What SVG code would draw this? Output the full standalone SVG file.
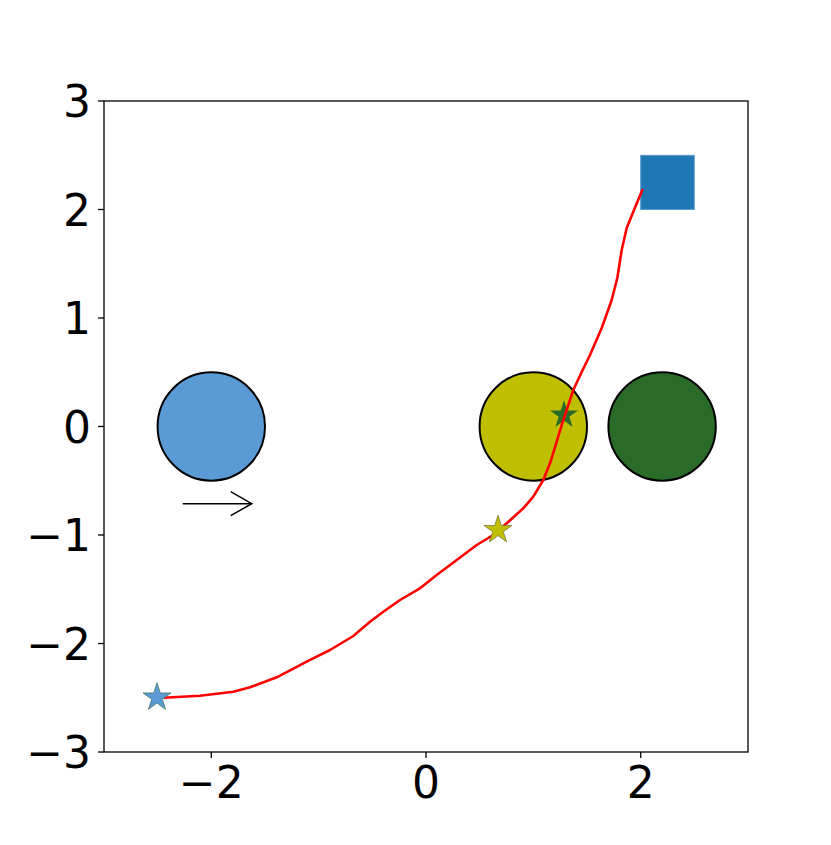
<svg xmlns="http://www.w3.org/2000/svg" width="831" height="845" viewBox="0 0 831 845">
<style>
.tick{stroke:#000;stroke-width:1.3}
.lbl{font-family:"DejaVu Sans",sans-serif;font-size:44px;fill:#000}
.ylbl{text-anchor:end}
.xlbl{text-anchor:middle}
.circ{stroke:#000;stroke-width:2}
</style>
<defs>
<polygon id="star" points="0,-14.7 -3.3,-4.55 -13.99,-4.55 -5.34,1.73 -8.64,11.9 0,5.62 8.64,11.9 5.34,1.73 13.99,-4.55 3.3,-4.55"/>
</defs>
<rect width="831" height="845" fill="#fff"/>
<g id="axes">
<rect x="104" y="101" width="644" height="651" fill="none" stroke="#000" stroke-width="1.3"/>
<g id="yticks">
<line class="tick" x1="98" y1="101" x2="104" y2="101"/>
<line class="tick" x1="98" y1="209.5" x2="104" y2="209.5"/>
<line class="tick" x1="98" y1="318" x2="104" y2="318"/>
<line class="tick" x1="98" y1="426.5" x2="104" y2="426.5"/>
<line class="tick" x1="98" y1="535" x2="104" y2="535"/>
<line class="tick" x1="98" y1="643.5" x2="104" y2="643.5"/>
<line class="tick" x1="98" y1="752" x2="104" y2="752"/>
<text class="lbl ylbl" x="91" y="117">3</text>
<text class="lbl ylbl" x="91" y="225.5">2</text>
<text class="lbl ylbl" x="91" y="334">1</text>
<text class="lbl ylbl" x="91" y="442.5">0</text>
<text class="lbl ylbl" x="91" y="551">−1</text>
<text class="lbl ylbl" x="91" y="659.5">−2</text>
<text class="lbl ylbl" x="91" y="768">−3</text>
</g>
<g id="xticks">
<line class="tick" x1="211.3" y1="752" x2="211.3" y2="758"/>
<line class="tick" x1="426" y1="752" x2="426" y2="758"/>
<line class="tick" x1="640.7" y1="752" x2="640.7" y2="758"/>
<text class="lbl xlbl" x="211.3" y="798">−2</text>
<text class="lbl xlbl" x="426" y="798">0</text>
<text class="lbl xlbl" x="640.7" y="798">2</text>
</g>
</g>
<g id="obstacle-blue"><ellipse class="circ" cx="211.3" cy="426.5" rx="53.7" ry="54.2" fill="#5b9bd5"/></g>
<g id="obstacle-yellow"><ellipse class="circ" cx="533.3" cy="426.5" rx="53.7" ry="54.2" fill="#bfbf00"/></g>
<g id="obstacle-green"><ellipse class="circ" cx="662.1" cy="426.5" rx="53.7" ry="54.2" fill="#2a6b2a"/></g>
<g id="goal"><rect x="640.7" y="155.3" width="53.6" height="54.2" fill="#1f77b4" stroke="#5a9ccd" stroke-width="1"/></g>
<g id="star-green"><use href="#star" x="564" y="415" fill="#2a6b2a"/></g>
<g id="connectors">
<polyline fill="none" stroke="#ff0000" stroke-width="2.6" stroke-linejoin="round" stroke-linecap="round" points="157,697.75 163.3,697.7 200,695.7 233.3,691.7 250,687.3 276.7,677.3 306.7,661.7 330,650 353.3,636 370,621.7 383.3,611.7 400,600 420,588.3 436.7,575 456.7,560 476.7,545 493.3,535 506.7,523.3 523.3,508.3 533.3,496.7 543.3,480 550,463.3 556.7,441.7 561.7,425 566.7,410 573.3,390 581.7,372 590,355 601.7,328 611.7,300 617.3,278 621.7,250 626.7,228 633.3,211.7 642.3,190"/>
<g id="arrow" stroke="#000" stroke-width="1.5" fill="none">
<line x1="182.7" y1="503.7" x2="251.7" y2="503.7"/>
<polyline points="230.7,491.7 251.7,503.7 230.7,515.7"/>
</g>
</g>
<g id="star-blue"><use href="#star" x="157" y="697.5" fill="#5b9bd5" stroke="#4a7a6a" stroke-width="0.8"/></g>
<g id="star-yellow"><use href="#star" x="498" y="530" fill="#bfbf00" stroke="#7a7a40" stroke-width="0.8"/></g>
</svg>
